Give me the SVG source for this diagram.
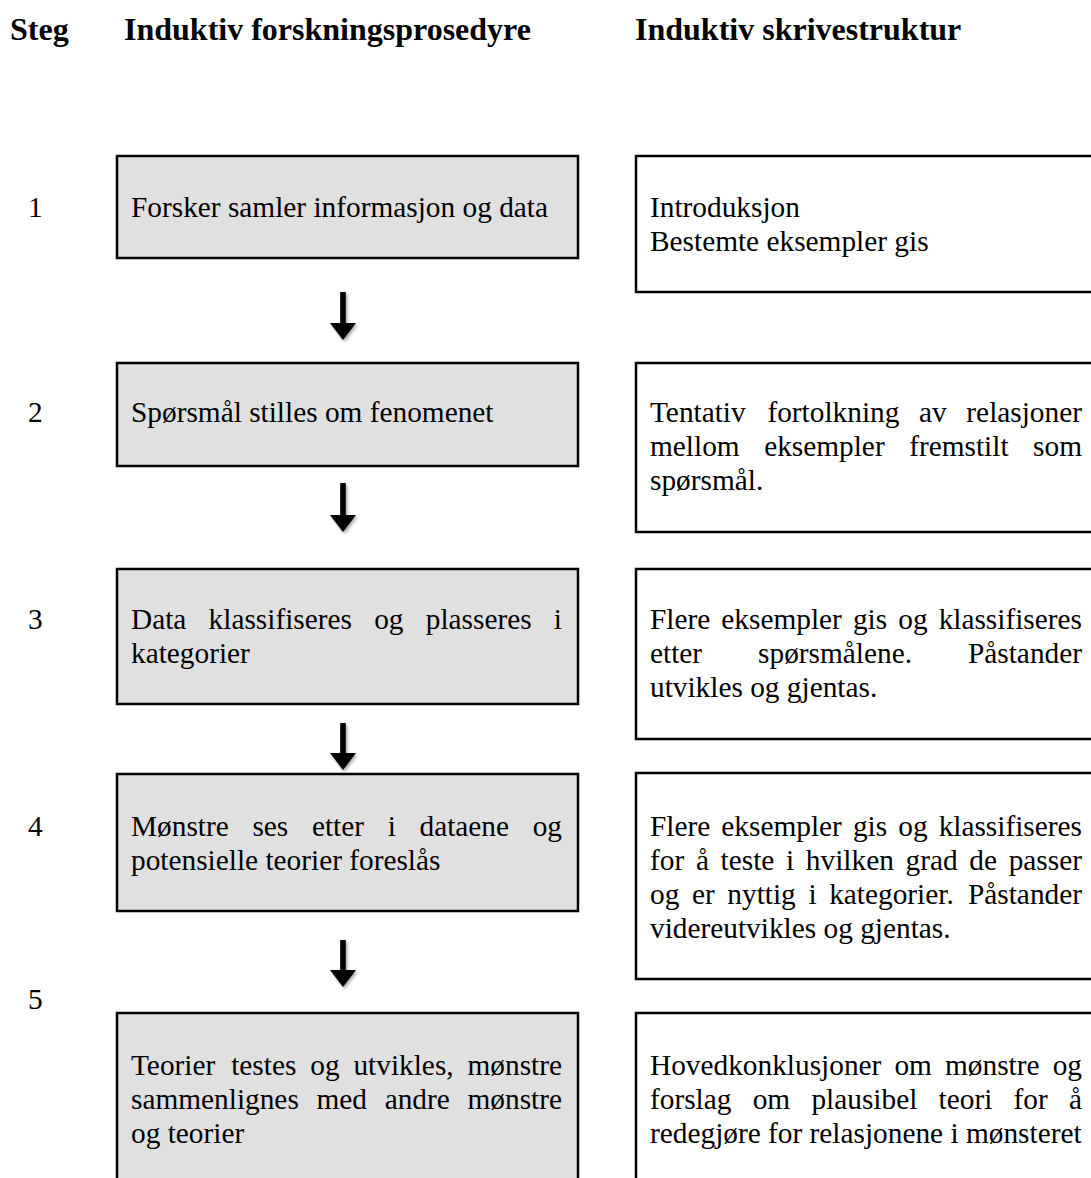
<svg xmlns="http://www.w3.org/2000/svg" width="1091" height="1178" viewBox="0 0 1091 1178">
<style>
.hd{font-family:"Liberation Serif","Times New Roman",serif;font-weight:bold;font-size:32px;fill:#000}
.t{font-family:"Liberation Serif","Times New Roman",serif;font-size:29.33px;fill:#000}
.lb{fill:#e0e0e0;stroke:#000;stroke-width:2.5}
.rb{fill:#fff;stroke:#000;stroke-width:2.5}
.ar{fill:#000}
</style>
<defs>
<filter id="sh" x="-50%" y="-20%" width="200%" height="150%">
<feDropShadow dx="1.5" dy="2" stdDeviation="1.5" flood-color="#000" flood-opacity="0.35"/>
</filter>
</defs>
<rect width="1091" height="1178" fill="#fff"/>
<g id="headers">
<text class="hd" x="10" y="40">Steg</text>
<text class="hd" x="124" y="40">Induktiv forskningsprosedyre</text>
<text class="hd" x="635" y="40">Induktiv skrivestruktur</text>
</g>
<g id="steps">
<text class="t" x="28" y="217">1</text>
<text class="t" x="28" y="422">2</text>
<text class="t" x="28" y="629">3</text>
<text class="t" x="28" y="836">4</text>
<text class="t" x="28" y="1009">5</text>
</g>
<g id="p1">
<rect class="lb" x="117" y="156" width="461" height="102"/>
<text class="t" x="131" y="217">Forsker samler informasjon og data</text>
</g>
<g id="p2">
<rect class="lb" x="117" y="363" width="461" height="103"/>
<text class="t" x="131" y="422">Spørsmål stilles om fenomenet</text>
</g>
<g id="p3">
<rect class="lb" x="117" y="569" width="461" height="135"/>
<text class="t" y="629"><tspan x="131">Data</tspan><tspan x="208.6">klassifiseres</tspan><tspan x="374.19">og</tspan><tspan x="425.74">plasseres</tspan><tspan x="553.85">i</tspan></text>
<text class="t" x="131" y="663">kategorier</text>
</g>
<g id="p4">
<rect class="lb" x="117" y="774" width="461" height="137"/>
<text class="t" y="836"><tspan x="131">Mønstre</tspan><tspan x="252.41">ses</tspan><tspan x="311.9">etter</tspan><tspan x="387.67">i</tspan><tspan x="419.47">dataene</tspan><tspan x="532.67">og</tspan></text>
<text class="t" x="131" y="870">potensielle teorier foreslås</text>
</g>
<g id="p5">
<rect class="lb" x="117" y="1013" width="461" height="200"/>
<text class="t" y="1075"><tspan x="131">Teorier</tspan><tspan x="231.19">testes</tspan><tspan x="310.23">og</tspan><tspan x="353.43">utvikles,</tspan><tspan x="467.5">mønstre</tspan></text>
<text class="t" y="1109"><tspan x="131">sammenlignes</tspan><tspan x="316.5">med</tspan><tspan x="384.68">andre</tspan><tspan x="467.5">mønstre</tspan></text>
<text class="t" x="131" y="1143">og teorier</text>
</g>
<g id="w1">
<rect class="rb" x="636" y="156" width="480" height="136"/>
<text class="t" x="650" y="217">Introduksjon</text>
<text class="t" x="650" y="251">Bestemte eksempler gis</text>
</g>
<g id="w2">
<rect class="rb" x="636" y="363" width="480" height="169"/>
<text class="t" y="422"><tspan x="650">Tentativ</tspan><tspan x="767.4">fortolkning</tspan><tspan x="919.03">av</tspan><tspan x="966.35">relasjoner</tspan></text>
<text class="t" y="456"><tspan x="650">mellom</tspan><tspan x="764.14">eksempler</tspan><tspan x="909.2">fremstilt</tspan><tspan x="1033.11">som</tspan></text>
<text class="t" x="650" y="490">spørsmål.</text>
</g>
<g id="w3">
<rect class="rb" x="636" y="569" width="480" height="170"/>
<text class="t" y="629"><tspan x="650">Flere</tspan><tspan x="721.33">eksempler</tspan><tspan x="852.94">gis</tspan><tspan x="898.23">og</tspan><tspan x="938.63">klassifiseres</tspan></text>
<text class="t" y="663"><tspan x="650">etter</tspan><tspan x="758.07">spørsmålene.</tspan><tspan x="967.97">Påstander</tspan></text>
<text class="t" x="650" y="697">utvikles og gjentas.</text>
</g>
<g id="w4">
<rect class="rb" x="636" y="773" width="480" height="206"/>
<text class="t" y="836"><tspan x="650">Flere</tspan><tspan x="721.33">eksempler</tspan><tspan x="852.94">gis</tspan><tspan x="898.23">og</tspan><tspan x="938.63">klassifiseres</tspan></text>
<text class="t" y="870"><tspan x="650">for</tspan><tspan x="695.88">å</tspan><tspan x="720.58">teste</tspan><tspan x="786.02">i</tspan><tspan x="805.85">hvilken</tspan><tspan x="905.52">grad</tspan><tspan x="969.32">de</tspan><tspan x="1008.7">passer</tspan></text>
<text class="t" y="904"><tspan x="650">og</tspan><tspan x="691.93">er</tspan><tspan x="727.32">nyttig</tspan><tspan x="808.38">i</tspan><tspan x="829.13">kategorier.</tspan><tspan x="967.97">Påstander</tspan></text>
<text class="t" x="650" y="938">videreutvikles og gjentas.</text>
</g>
<g id="w5">
<rect class="rb" x="636" y="1013" width="480" height="200"/>
<text class="t" y="1075"><tspan x="650">Hovedkonklusjoner</tspan><tspan x="894.46">om</tspan><tspan x="945.05">mønstre</tspan><tspan x="1052.67">og</tspan></text>
<text class="t" y="1109"><tspan x="650">forslag</tspan><tspan x="752.69">om</tspan><tspan x="811.41">plausibel</tspan><tspan x="938.56">teori</tspan><tspan x="1013.56">for</tspan><tspan x="1068.98">å</tspan></text>
<text class="t" x="650" y="1143">redegjøre for relasjonene i mønsteret</text>
</g>
<g id="connectors" filter="url(#sh)">
<path class="ar" d="M340.2,292 H345.8 V323 H356 L343,340 L330,323 H340.2 Z"/>
<path class="ar" d="M340.2,483 H345.8 V515 H356 L343,532 L330,515 H340.2 Z"/>
<path class="ar" d="M340.2,723 H345.8 V753 H356 L343,770 L330,753 H340.2 Z"/>
<path class="ar" d="M340.2,940 H345.8 V970 H356 L343,987 L330,970 H340.2 Z"/>
</g>
</svg>
